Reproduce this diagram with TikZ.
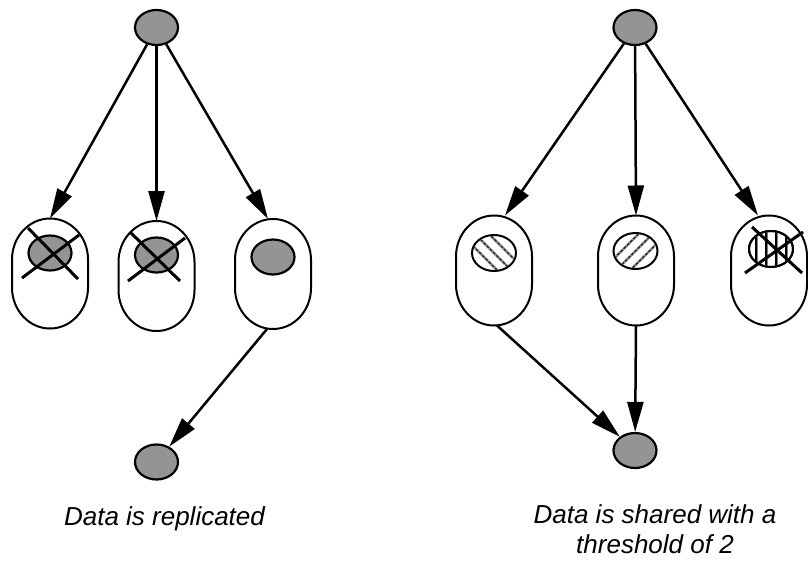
\documentclass[tikz,border=0pt]{standalone}
\usepackage{fontspec}
\setmainfont{Liberation Sans}
\usetikzlibrary{arrows.meta,shapes.geometric}
\definecolor{datagray}{RGB}{148,148,148}
% a server: a named oval box, outlined with elliptical caps
\newcommand{\servernode}[3]{%
  \node[server] (#1) at (#2,#3) {};
  \draw[serverline] ([shift={(-38pt,-14pt)}]#1.center)
    arc[start angle=180,end angle=360,x radius=38pt,y radius=41pt]
    -- ++(0,28pt)
    arc[start angle=0,end angle=180,x radius=38pt,y radius=41pt]
    -- cycle;}
\begin{document}
\begin{tikzpicture}[x=1pt,y=-1pt,
  datum/.style={draw=black,line width=2.2pt,fill=datagray,ellipse,inner sep=0pt,
    minimum width=43pt,minimum height=35pt},
  share/.style={draw=black,line width=2pt,fill=white,ellipse,inner sep=0pt,
    minimum width=44pt,minimum height=36pt},
  server/.style={rectangle,minimum width=76pt,minimum height=110pt,inner sep=0pt,outer sep=0pt},
  serverline/.style={draw=black,line width=2pt},
  link/.style={line width=2.5pt,-{Triangle[length=30pt,width=16pt]}},
  strike/.style={line width=3pt},
  hatchband/.style={black!40,line width=2.6pt},
  hatch/.style={black!85,line width=1.3pt,dash pattern=on 3pt off 1.5pt},
  caption/.style={font=\fontsize{26}{30}\selectfont\itshape,align=center,inner sep=0pt}]
\useasboundingbox (0,0) rectangle (808,560);

% ---- replication ----
\node[datum] (srcA) at (156.5,27.5) {};
\servernode{s1}{50}{273.5}
\servernode{s2}{156.5}{276}
\servernode{s3}{273}{274}
\node[datum] (c1) at (50,253) {};
\node[datum] (c2) at (156.5,255) {};
\node[datum] (c3) at (273,257) {};
\node[datum] (dstA) at (156.5,462) {};

\draw[strike] (28,228) -- (78,279);
\draw[strike] (22,278) -- (79,235);
\draw[strike] (130,232) -- (180,281);
\draw[strike] (128,281) -- (185,238);

\draw[link] (srcA) -- (s1.north);
\draw[link] (srcA) -- (s2.north);
\draw[link] (srcA) -- ([xshift=-5pt]s3.north);
\draw[link] ([xshift=-6pt]s3.south) -- (dstA);

% ---- secret sharing ----
\node[datum] (srcB) at (635,27.5) {};
\servernode{s4}{494}{270.5}
\servernode{s5}{636}{270.5}
\servernode{s6}{769}{270.5}
\node[share] (h1) at (494,253) {};
\node[share] (h2) at (635.5,251) {};
\node[share] (h3) at (771,249) {};
\node[datum] (dstB) at (635,450.5) {};

\begin{scope}
  \clip (h1.center) ellipse [x radius=21pt,y radius=17pt];
  \foreach \d in {-14,0,14} {
    \draw[hatchband] ([xshift=\d pt]h1.center) ++(-20,-20) -- ++(40,40);
    \draw[hatch] ([xshift=\d pt]h1.center) ++(-20,-20) -- ++(40,40);}
\end{scope}
\begin{scope}
  \clip (h2.center) ellipse [x radius=21pt,y radius=17pt];
  \foreach \d in {-14,0,14} {
    \draw[hatchband] ([xshift=\d pt]h2.center) ++(-20,20) -- ++(40,-40);
    \draw[hatch] ([xshift=\d pt]h2.center) ++(-20,20) -- ++(40,-40);}
\end{scope}
\begin{scope}
  \clip (h3.center) ellipse [x radius=21pt,y radius=17pt];
  \foreach \d in {-15,-5,5,15}
    \draw[gray,line width=3pt] ([xshift=\d pt]h3.center) ++(0,-20) -- ++(0,40);
  \foreach \d in {-15,-5,5,15}
    \draw[black,line width=1.1pt] ([xshift=\d pt]h3.center) ++(0,-20) -- ++(0,40);
\end{scope}
\node[share,fill=none] at (h3) {};
\draw[strike] (752,227) -- (802,273);
\draw[strike] (745,273) -- (803,232);

\draw[link] (srcB) -- ([xshift=11pt]s4.north);
\draw[link] (srcB) -- (s5.north);
\draw[link] (srcB) -- ([xshift=-11pt]s6.north);
\draw[link] ([xshift=3pt]s4.south) -- (dstB);
\draw[link] (s5.south) -- (dstB);

% ---- captions ----
\node[caption,anchor=base] (capA) at (164.5,525) {Data is replicated};
\node[caption,anchor=base] (capB) at (655,523) {Data is shared with a};
\node[caption,anchor=base] (capC) at (655,553) {threshold of 2};
\end{tikzpicture}
\end{document}
